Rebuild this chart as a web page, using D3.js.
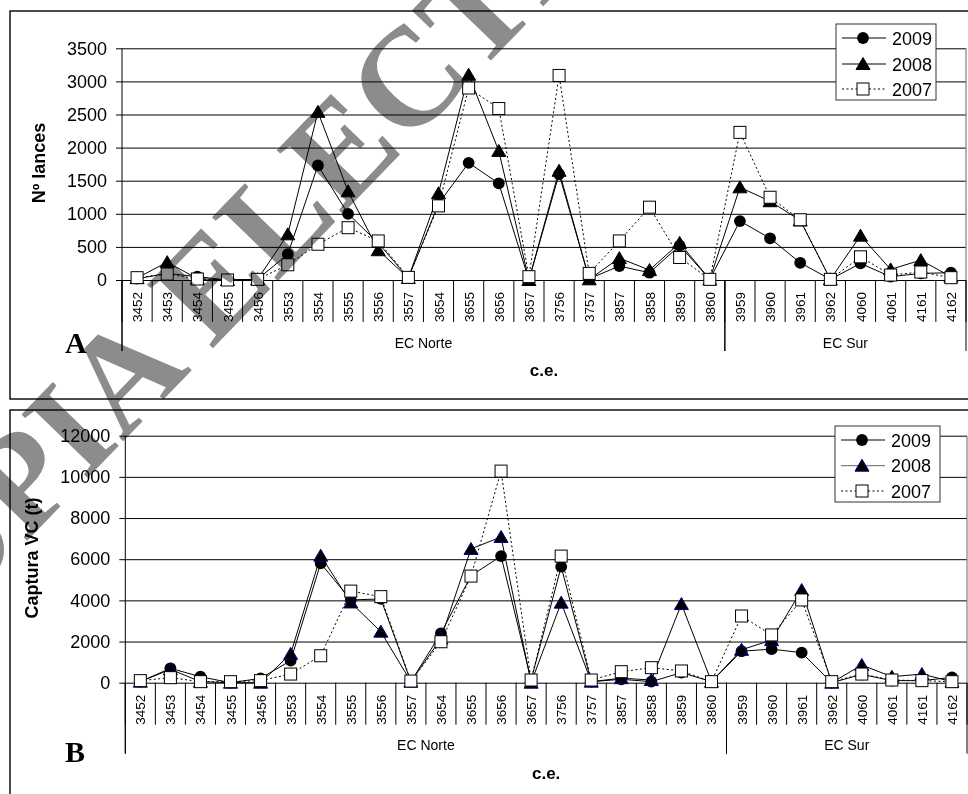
<!DOCTYPE html>
<html>
<head>
<meta charset="utf-8">
<script src="https://cdn.jsdelivr.net/npm/d3@7"></script>
<style>
  body { margin: 0; background: #fff; }
  svg { display: block; }
</style>
</head>
<body>
<div id="chart"></div>
<script>
// categories (c.e.) and the two zones they belong to
var categories = ["3452", "3453", "3454", "3455", "3456", "3553", "3554", "3555", "3556", "3557",
  "3654", "3655", "3656", "3657", "3756", "3757", "3857", "3858", "3859", "3860",
  "3959", "3960", "3961", "3962", "4060", "4061", "4161", "4162"];
var zoneNames = ["EC Norte", "EC Sur"];
var zoneFirst = ["3452", "3959"];
var zoneLast = ["3860", "4162"];
var years = ["2009", "2008", "2007"];

// panel A: Nº lances
var lances2009 = [20, 100, 50, 0, 10, 390, 1730, 1000, 560, 30, 1150, 1770, 1460, 0, 1600, 20, 210, 110, 520, 10, 890, 630, 260, 10, 250, 50, 100, 110];
var lances2008 = [30, 270, 20, 0, 10, 690, 2540, 1340, 450, 30, 1310, 3100, 1950, 0, 1650, 10, 330, 150, 560, 10, 1400, 1190, 900, 10, 670, 160, 300, 50];
var lances2007 = [35, 90, 15, 0, 10, 230, 540, 790, 590, 40, 1120, 2900, 2590, 50, 3090, 100, 590, 1100, 340, 10, 2230, 1250, 910, 10, 350, 75, 120, 35];
var lancesTicks = [0, 500, 1000, 1500, 2000, 2500, 3000, 3500];

// panel B: Captura VC (t)
var captura2009 = [50, 700, 290, 0, 210, 1070, 5800, 4020, 4070, 50, 2400, 5200, 6150, 130, 5640, 50, 165, 50, 490, 50, 1530, 1630, 1460, 0, 400, 100, 100, 260];
var captura2008 = [50, 650, 50, 0, 0, 1400, 6170, 3900, 2480, 50, 2150, 6500, 7080, 0, 3890, 50, 220, 130, 3820, 50, 1600, 2070, 4500, 0, 860, 290, 420, 50];
var captura2007 = [100, 245, 50, 50, 100, 420, 1310, 4450, 4180, 80, 1990, 5180, 10280, 130, 6150, 130, 535, 730, 570, 50, 3240, 2320, 4020, 50, 420, 130, 100, 50];
var capturaTicks = [0, 2000, 4000, 6000, 8000, 10000, 12000];

var svgWidth = 968;
var svgHeight = 794;
var sans = "'Liberation Sans', Arial, sans-serif";
var serif = "'Liberation Serif', 'Times New Roman', serif";

var svg = d3.select("#chart")
  .append("svg")
  .attr("width", svgWidth)
  .attr("height", svgHeight);

svg.append("rect").attr("width", svgWidth).attr("height", svgHeight).attr("fill", "#fff");

var panels = [
  {
    letter: "A", title: "Nº lances", ticks: lancesTicks,
    series: [lances2009, lances2008, lances2007],
    boxTop: 11, boxBottom: 399,
    left: 122, right: 966, yTop: 48.3, y0: 280,
    titleX: 45, titleY: 163, letterY: 353,
    legend: { x: 836, y: 24, w: 100, h: 76, rows: [38, 64, 89] },
    triFill: "#000", triStroke: "#000", triLine: "#000"
  },
  {
    letter: "B", title: "Captura VC (t)", ticks: capturaTicks,
    series: [captura2009, captura2008, captura2007],
    boxTop: 410, boxBottom: 810,
    left: 125.3, right: 967, yTop: 435.7, y0: 682.7,
    titleX: 38, titleY: 558, letterY: 762,
    legend: { x: 835, y: 426, w: 105, h: 76, rows: [440, 465.7, 491] },
    triFill: "#000", triStroke: "#000080", triLine: "#000"
  }
];

var trianglePath = "M0,-6.5L7,5.5L-7,5.5Z";

function drawMarker(g, kind, cx, cy, p) {
  if (kind === 0) {
    g.append("circle").attr("cx", cx).attr("cy", cy).attr("r", 5.9).attr("fill", "#000");
  } else if (kind === 1) {
    g.append("path").attr("d", trianglePath)
      .attr("transform", `translate(${cx},${cy})`)
      .attr("fill", p.triFill).attr("stroke", p.triStroke).attr("stroke-width", 1);
  } else {
    g.append("rect").attr("x", cx - 6).attr("y", cy - 6).attr("width", 12).attr("height", 12)
      .attr("fill", "#fff").attr("stroke", "#000").attr("stroke-width", 1);
  }
}

function drawPanel(p) {
  var g = svg.append("g");

  // outer frame of the panel
  g.append("rect")
    .attr("x", 10).attr("y", p.boxTop)
    .attr("width", 975).attr("height", p.boxBottom - p.boxTop)
    .attr("fill", "none").attr("stroke", "#000").attr("stroke-width", 1.4);

  var x = d3.scaleBand().domain(categories).range([p.left, p.right]);
  var y = d3.scaleLinear().domain([0, d3.max(p.ticks)]).range([p.y0, p.yTop]);
  var bw = x.bandwidth();
  var cx = (c) => x(c) + bw / 2;

  // horizontal grid
  var grid = g.append("g")
    .attr("transform", `translate(${p.left},0)`)
    .call(d3.axisLeft(y).tickValues(p.ticks).tickSize(-(p.right - p.left)).tickFormat(""));
  grid.select(".domain").remove();
  grid.selectAll("line").attr("stroke", "#000").attr("stroke-width", 1);

  // value axis labels with small outside ticks
  var yAxis = g.append("g")
    .attr("transform", `translate(${p.left},0)`)
    .call(d3.axisLeft(y).tickValues(p.ticks).tickSize(6).tickPadding(9).tickFormat(d3.format("d")));
  yAxis.select(".domain").remove();
  yAxis.selectAll("line").attr("stroke", "#000");
  yAxis.selectAll("text")
    .attr("font-family", sans).attr("font-size", 18).attr("fill", "#000");

  // right border of plot area
  g.append("line")
    .attr("x1", p.right).attr("x2", p.right).attr("y1", p.yTop).attr("y2", p.y0)
    .attr("stroke", "#808080").attr("stroke-width", 1.2);

  // left axis line, runs down to the zone boxes
  g.append("line")
    .attr("x1", p.left).attr("x2", p.left).attr("y1", p.yTop).attr("y2", p.y0 + 71)
    .attr("stroke", "#000").attr("stroke-width", 1);

  // category separators
  categories.concat(["end"]).forEach(function (c) {
    var xx = c === "end" ? p.right : x(c);
    g.append("line")
      .attr("x1", xx).attr("x2", xx).attr("y1", p.y0).attr("y2", p.y0 + 42)
      .attr("stroke", "#000").attr("stroke-width", 1);
  });

  // category labels (rotated)
  categories.forEach(function (c) {
    g.append("text")
      .attr("transform", `translate(${cx(c) + 5},${p.y0 + 12}) rotate(-90)`)
      .attr("text-anchor", "end")
      .attr("font-family", sans).attr("font-size", 13.5)
      .text(c);
  });

  // zone separators and labels
  zoneNames.forEach(function (z, i) {
    var x1 = x(zoneFirst[i]);
    var x2 = x(zoneLast[i]) + bw;
    [x1, x2].forEach(function (xx) {
      g.append("line")
        .attr("x1", xx).attr("x2", xx).attr("y1", p.y0).attr("y2", p.y0 + 71)
        .attr("stroke", "#000").attr("stroke-width", 1);
    });
    g.append("text")
      .attr("x", (x1 + x2) / 2).attr("y", p.y0 + 67.5)
      .attr("text-anchor", "middle")
      .attr("font-family", sans).attr("font-size", 14)
      .text(z);
  });

  // axis titles
  g.append("text")
    .attr("x", (p.left + p.right) / 2).attr("y", p.y0 + 96)
    .attr("text-anchor", "middle")
    .attr("font-family", sans).attr("font-size", 17).attr("font-weight", "bold")
    .text("c.e.");

  g.append("text")
    .attr("transform", `translate(${p.titleX},${p.titleY}) rotate(-90)`)
    .attr("text-anchor", "middle")
    .attr("font-family", sans).attr("font-size", 18).attr("font-weight", "bold")
    .text(p.title);

  g.append("text")
    .attr("x", 65).attr("y", p.letterY)
    .attr("font-family", serif).attr("font-size", 30).attr("font-weight", "bold")
    .text(p.letter);

  // series: 2009 circles, 2008 triangles, 2007 squares (dotted)
  p.series.forEach(function (values, i) {
    var line = d3.line()
      .x((d, j) => cx(categories[j]))
      .y((d) => y(d));
    g.append("path")
      .datum(values)
      .attr("d", line)
      .attr("fill", "none")
      .attr("stroke", i === 1 ? p.triLine : "#000")
      .attr("stroke-width", 1)
      .attr("stroke-dasharray", i === 2 ? "2,2.5" : null);
    values.forEach(function (v, j) {
      drawMarker(g, i, cx(categories[j]), y(v), p);
    });
  });

  // legend
  var lg = p.legend;
  g.append("rect")
    .attr("x", lg.x).attr("y", lg.y).attr("width", lg.w).attr("height", lg.h)
    .attr("fill", "#fff").attr("stroke", "#333").attr("stroke-width", 1);
  years.forEach(function (yr, i) {
    var ry = lg.rows[i];
    g.append("line")
      .attr("x1", lg.x + 6).attr("x2", lg.x + 50).attr("y1", ry).attr("y2", ry)
      .attr("stroke", i === 1 && p.letter === "B" ? "#666" : "#000").attr("stroke-width", 1)
      .attr("stroke-dasharray", i === 2 ? "2,2.5" : null);
    drawMarker(g, i, lg.x + 27, ry, p);
    g.append("text")
      .attr("x", lg.x + 56).attr("y", ry + 6.5)
      .attr("font-family", sans).attr("font-size", 18)
      .text(yr);
  });
}

panels.forEach(drawPanel);

// watermark over the whole figure
svg.append("text")
  .attr("transform", "translate(-121,694) rotate(-46)")
  .attr("font-family", serif).attr("font-size", 140).attr("font-weight", "bold")
  .attr("fill", "#8c8c8c")
  .style("mix-blend-mode", "multiply")
  .text("COPIA ELECTRONICA");
</script>
</body>
</html>
